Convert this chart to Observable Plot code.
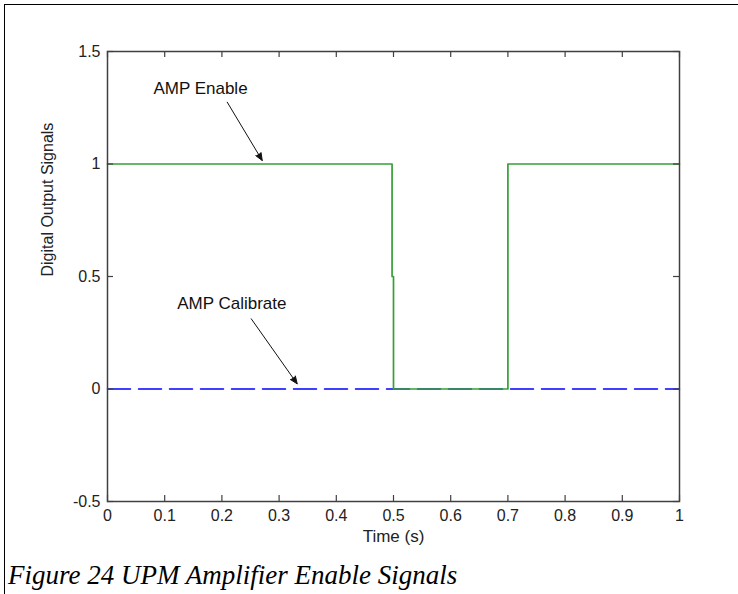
<!DOCTYPE html>
<html>
<head>
<meta charset="utf-8">
<script src="https://cdn.jsdelivr.net/npm/d3@7"></script>
<script src="https://cdn.jsdelivr.net/npm/@observablehq/plot@0.6"></script>
<style>
  html, body { margin: 0; padding: 0; background: #fff; }
  #wrap { position: relative; width: 738px; height: 594px; overflow: hidden; background: #fff; }
  #border { position: absolute; left: 4px; top: 4px; right: -10px; bottom: -10px;
            border-left: 1.5px solid #000; border-top: 1.5px solid #000; }
  #chart { position: absolute; left: 0; top: 0; }
  #cap { position: absolute; left: 8px; top: 562px; font: italic 27px "Liberation Serif", "Times New Roman", serif;
         color: #000; line-height: 1; white-space: nowrap; }
</style>
</head>
<body>
<div id="wrap">
  <div id="border"></div>
  <div id="chart"></div>
  <div id="cap">Figure 24 UPM Amplifier Enable Signals</div>
</div>
<script>
// AMP Enable signal (time, value)
const enableTime  = [0, 0.4975, 0.4975, 0.5, 0.5, 0.7, 0.7, 1];
const enableValue = [1, 1,      0.5,    0.5, 0,   0,   1,   1];
// AMP Calibrate signal
const calTime  = [0, 1];
const calValue = [0, 0];
// ticks
const xTicks = [0, 0.1, 0.2, 0.3, 0.4, 0.5, 0.6, 0.7, 0.8, 0.9, 1];
const yTicks = [-0.5, 0, 0.5, 1, 1.5];
// annotations (data units)
const annLabels = ["AMP Enable", "AMP Calibrate"];
const annTextX  = [0.1626, 0.2174];
const annTextY  = [1.334, 0.379];
const arrowX1 = [0.2093, 0.2513];
const arrowY1 = [1.2747, 0.312];
const arrowX2 = [0.2705, 0.3316];
const arrowY2 = [1.0156, 0.023];

const enableData = enableTime.map((t, i) => ({t, v: enableValue[i]}));
const calData = calTime.map((t, i) => ({t, v: calValue[i]}));
const annData = annLabels.map((label, i) => ({label, x: annTextX[i], y: annTextY[i],
  x1: arrowX1[i], y1: arrowY1[i], x2: arrowX2[i], y2: arrowY2[i]}));

const axisColor = "#404040";
const plot = Plot.plot({
  width: 738,
  height: 556,
  marginLeft: 107,
  marginRight: 59,
  marginTop: 51,
  marginBottom: 55,
  x: {domain: [0, 1]},
  y: {domain: [-0.5, 1.5]},
  style: {fontFamily: "'Liberation Sans', Arial, Helvetica, sans-serif", fontSize: "16px", color: "#222", background: "transparent"},
  marks: [
    Plot.line(calData, {x: "t", y: "v", stroke: "#0000ff", strokeWidth: 1.5, strokeDasharray: "23,8"}),
    Plot.line(enableData, {x: "t", y: "v", stroke: "#36a036", strokeWidth: 1.7}),
    Plot.frame({stroke: axisColor, strokeWidth: 1.5}),
    Plot.tickX(xTicks, {x: d => d, insetTop: 444, stroke: axisColor, strokeWidth: 1.2}),
    Plot.tickX(xTicks, {x: d => d, insetBottom: 444, stroke: axisColor, strokeWidth: 1.2}),
    Plot.tickY(yTicks, {y: d => d, insetLeft: 566, stroke: axisColor, strokeWidth: 1.2}),
    Plot.tickY(yTicks, {y: d => d, insetRight: 566, stroke: axisColor, strokeWidth: 1.2}),
    Plot.axisX(xTicks, {anchor: "bottom", tickSize: 0, tickPadding: 8, label: null, tickFormat: d => String(d)}),
    Plot.axisY(yTicks, {anchor: "left", tickSize: 0, tickPadding: 7, label: null, tickFormat: d => String(d)}),
    Plot.text(["Time (s)"], {frameAnchor: "bottom", dy: 40, fontSize: 17}),
    Plot.text(["Digital Output Signals"], {frameAnchor: "left", dx: -60, rotate: -90, fontSize: 16}),
    Plot.text(annData, {x: "x", y: "y", text: "label", fontSize: 17, fill: "#111"}),
    Plot.arrow(annData, {x1: "x1", y1: "y1", x2: "x2", y2: "y2", stroke: "#111", fill: "#111",
      strokeWidth: 1, headLength: 12, headAngle: 45})
  ]
});
document.getElementById("chart").appendChild(plot);
</script>
</body>
</html>
